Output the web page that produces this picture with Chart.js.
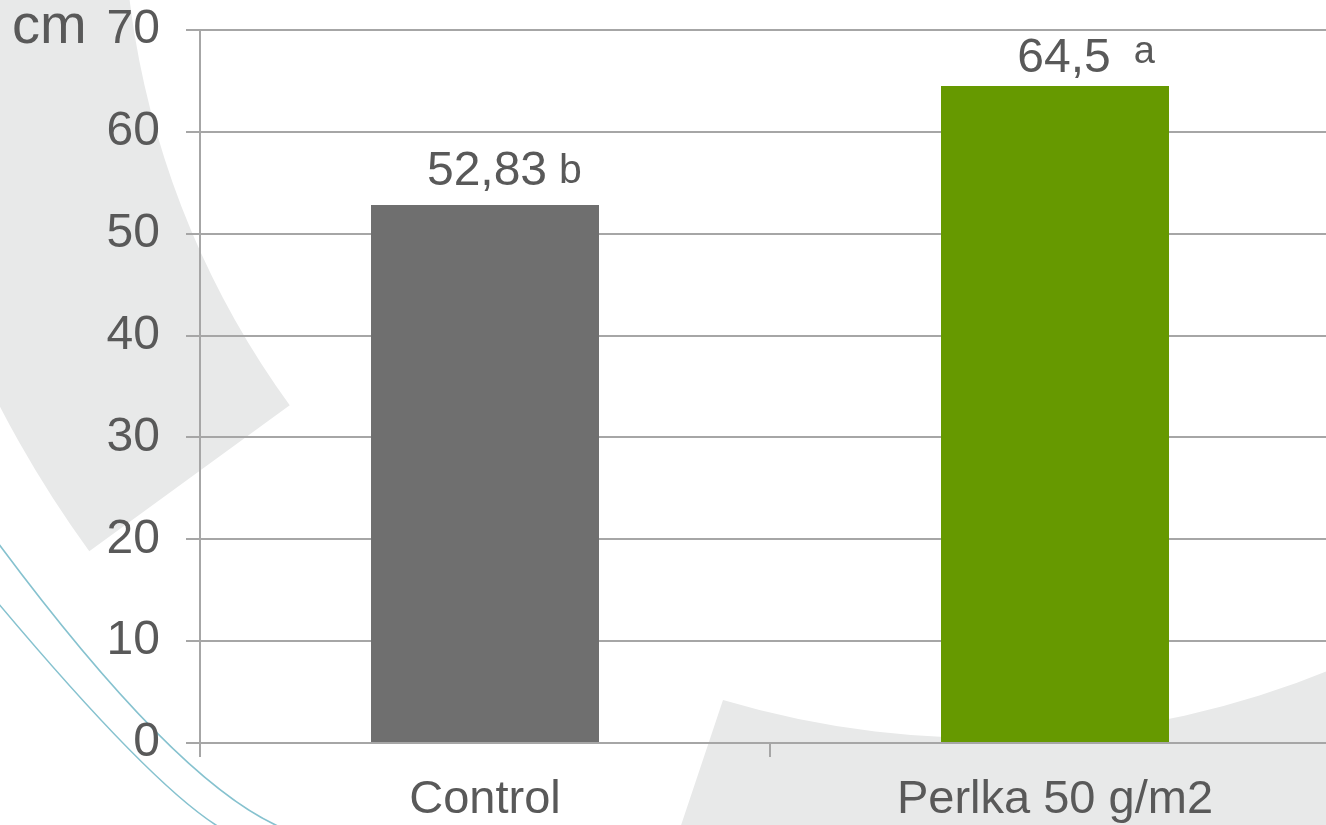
<!DOCTYPE html>
<html lang="en">
<head>
<meta charset="utf-8">
<title>Plant height</title>
<script src="https://cdn.jsdelivr.net/npm/chart.js@4.4.1/dist/chart.umd.min.js"></script>
<style>
  html, body { margin: 0; padding: 0; background: #ffffff; overflow: hidden; }
  #wrap { position: absolute; left: 0; top: 0; width: 1345px; height: 825px; }
</style>
</head>
<body>
<div id="wrap"><canvas id="chart"></canvas></div>
<script>
const categories = ["Control", "Perlka 50 g/m2"];
const heights = [52.83, 64.5];
const letters = ["b", "a"];
const barColors = ["#6f6f6f", "#669900"];
const yTicks = [0, 10, 20, 30, 40, 50, 60, 70];
const unitLabel = "cm";

const FONT = "'Liberation Sans', Arial, sans-serif";
const TEXT = "#595959";
const LINE = "#a6a6a6";
const SHAPE = "#e8e9e9";
const TEAL = "#86c2cf";

// label tweaks per bar (offset of the number, gap to the letter, letter size and lift)
const labelStyles = [
  { dx: 2, gap: 20, letterGap: 12, letterSize: 41, lift: 2 },
  { dx: 9, gap: 14, letterGap: 23, letterSize: 38, lift: 9 },
];

const backgroundShapes = {
  id: "backgroundShapes",
  beforeDraw(chart) {
    const ctx = chart.ctx;
    ctx.save();
    ctx.fillStyle = "#ffffff";
    ctx.fillRect(0, 0, chart.width, chart.height);

    // band in the upper left
    const cx = 993, cy = -107;
    const cut = Math.atan2(512, -703);
    ctx.fillStyle = SHAPE;
    ctx.beginPath();
    ctx.arc(cx, cy, 870, cut, Math.PI + 0.3, false);
    ctx.arc(cx, cy, 1118, Math.PI + 0.3, cut, true);
    ctx.closePath();
    ctx.fill();

    // shape in the lower right
    const bx = 984, by = -177;
    ctx.beginPath();
    ctx.arc(bx, by, 915, Math.atan2(877, -261), 0.5, true);
    ctx.lineTo(1400, 900);
    ctx.lineTo(656, 900);
    ctx.closePath();
    ctx.fill();

    // two thin teal curves
    ctx.strokeStyle = TEAL;
    ctx.lineWidth = 1.6;
    ctx.beginPath();
    ctx.moveTo(-2, 543);
    ctx.quadraticCurveTo(175, 781, 280, 827);
    ctx.stroke();
    ctx.beginPath();
    ctx.moveTo(-2, 603);
    ctx.quadraticCurveTo(151, 785, 219, 827);
    ctx.stroke();
    ctx.restore();
  },
};

const valueLabels = {
  id: "valueLabels",
  afterDatasetsDraw(chart) {
    const ctx = chart.ctx;
    const meta = chart.getDatasetMeta(0);
    ctx.save();
    ctx.fillStyle = TEXT;
    ctx.textBaseline = "alphabetic";
    meta.data.forEach((bar, index) => {
      const style = labelStyles[index];
      const text = String(heights[index]).replace(".", ",");
      ctx.font = `48px ${FONT}`;
      ctx.textAlign = "center";
      const x = bar.x + style.dx;
      const y = bar.y - style.gap;
      ctx.fillText(text, x, y);
      const right = x + ctx.measureText(text).width / 2;
      ctx.font = `${style.letterSize}px ${FONT}`;
      ctx.textAlign = "left";
      ctx.fillText(letters[index], right + style.letterGap, y - style.lift);
    });

    // unit next to the top tick
    ctx.font = `56px ${FONT}`;
    ctx.textAlign = "left";
    ctx.fillText(unitLabel, 12, 43);
    ctx.restore();
  },
};

new Chart(document.getElementById("chart"), {
  type: "bar",
  data: {
    labels: categories,
    datasets: [
      {
        data: heights,
        backgroundColor: barColors,
        borderWidth: 0,
        barPercentage: 0.4,
        categoryPercentage: 1,
      },
    ],
  },
  options: {
    responsive: true,
    maintainAspectRatio: false,
    animation: false,
    layout: { padding: { top: 30, right: 5, bottom: 0, left: 0 } },
    plugins: {
      legend: { display: false },
      tooltip: { enabled: false },
    },
    scales: {
      x: {
        offset: true,
        grid: {
          offset: true,
          drawOnChartArea: false,
          drawTicks: true,
          tickLength: 14,
          color: LINE,
          lineWidth: 2,
        },
        border: { display: false },
        ticks: {
          color: TEXT,
          font: { family: FONT, size: 47 },
          padding: 15,
          maxRotation: 0,
        },
        afterFit(scale) {
          scale.height = 82;
          scale.paddingLeft = 0;
          scale.paddingRight = 0;
        },
      },
      y: {
        min: 0,
        max: 70,
        afterBuildTicks(scale) {
          scale.ticks = yTicks.map((value) => ({ value }));
        },
        grid: {
          color: LINE,
          lineWidth: 2,
          tickLength: 14,
          tickColor: LINE,
        },
        border: { display: true, color: LINE, width: 2 },
        ticks: {
          color: TEXT,
          font: { family: FONT, size: 48 },
          padding: 26,
        },
        afterFit(scale) {
          scale.width = 200;
          scale.paddingTop = 0;
          scale.paddingBottom = 0;
        },
      },
    },
  },
  plugins: [backgroundShapes, valueLabels],
});
</script>
</body>
</html>
